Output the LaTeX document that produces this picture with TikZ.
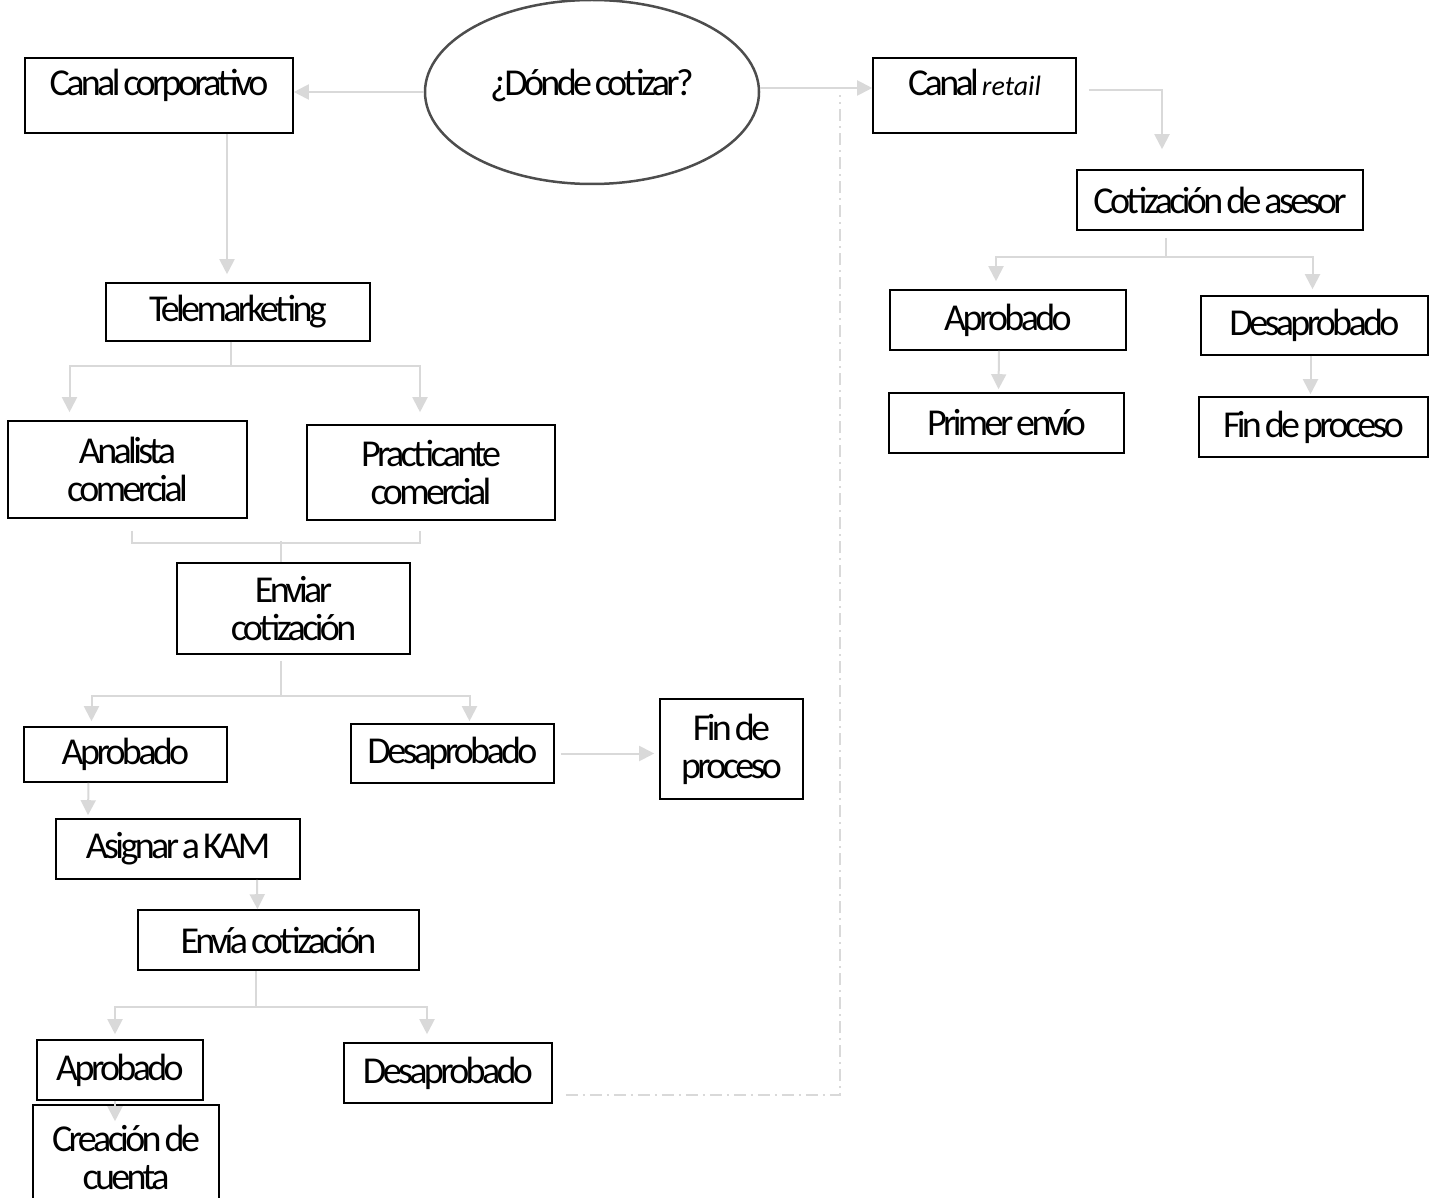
\documentclass[tikz,border=0pt]{standalone}
\usepackage{fontspec}
\usetikzlibrary{arrows.meta,shapes.geometric}
\newfontfamily\dc[LetterSpace=-9.5,WordSpace=0.6]{Carlito}
\newfontfamily\rt{Carlito}
\definecolor{linkgray}{HTML}{D9D9D9}
\definecolor{ovalgray}{HTML}{4D4D4D}
\tikzset{
	box/.style={draw, line width=1.6pt, minimum width=#1, minimum height=60pt, inner sep=2pt, align=center},
	box/.default=200pt,
	link/.style={draw=linkgray, line width=2pt},
	arr/.style={link, -{Triangle[length=15pt,width=15pt]}},
	dashdot/.style={draw=linkgray, line width=1.6pt, dash pattern=on 12pt off 5pt on 2pt off 5pt},
}

\begin{document}
\begin{tikzpicture}[x=1pt,y=-1pt,font=\dc\fontsize{38}{38}\selectfont]
	\useasboundingbox (0,0) rectangle (1429,1198);
	% top row
	\node[ellipse, draw=ovalgray, line width=2.5pt, minimum width=334pt, minimum height=184pt, text depth=20pt] (quest) at (592,92) {¿Dónde cotizar?};
	\node[box=268pt, minimum height=75pt, text depth=27pt] (corp) at (159,95.5) {Canal corporativo};
	\node[box=203pt, minimum height=75pt, text depth=27pt] (retail) at (974.5,95.5) {Canal {\rt\fontsize{28}{30}\selectfont\itshape retail}};
	% corporate channel
	\node[box=264pt, minimum height=58pt] (tele) at (238,312) {Telemarketing};
	\node[box=239pt, minimum height=97pt] (ana) at (127.5,469.5) {Analista\\comercial};
	\node[box=248pt, minimum height=95pt] (prac) at (431,472.5) {Practicante\\comercial};
	\node[box=233pt, minimum height=91pt] (send) at (293.5,608.5) {Enviar\\cotización};
	\node[box=203pt, minimum height=55pt] (apr1) at (125.5,754.5) {Aprobado};
	\node[box=203pt, minimum height=59pt] (des1) at (452.5,753.5) {Desaprobado};
	\node[box=143pt, minimum height=100pt] (fin1) at (731.5,749) {Fin de\\proceso};
	\node[box=244pt] (kam) at (178,849) {Asignar a KAM};
	\node[box=281pt] (send2) at (278.5,940) {Envía cotización};
	\node[box=166pt] (apr2) at (120,1070) {Aprobado};
	\node[box=208pt] (des2) at (448,1073) {Desaprobado};
	\node[box=186pt, minimum height=104pt] (acct) at (126,1157) {Creación de\\cuenta};
	% retail channel
	\node[box=286pt] (ases) at (1220,200) {Cotización de asesor};
	\node[box=236pt] (apr3) at (1008,320) {Aprobado};
	\node[box=227pt, minimum height=59pt] (des3) at (1314.5,325.5) {Desaprobado};
	\node[box=235pt] (env) at (1006.5,423) {Primer envío};
	\node[box=229pt] (fin3) at (1313.5,427) {Fin de proceso};
	\coordinate (dd) at (840,95);

	\draw[arr] (quest.west) -- (quest.west -| corp.east);
	\draw[arr] ([yshift=4pt]quest.east) -- ([yshift=4pt]quest.east -| retail.west);
	\draw[arr] ([xshift=12pt,yshift=5pt]retail.east) -| ([xshift=-58pt,yshift=20pt]ases.north);

	\draw[arr] ([xshift=68pt]corp.south) -- ([xshift=-11pt,yshift=8pt]tele.north);
	\draw[link] ([xshift=-7pt]tele.south) -- ++(0,24) coordinate (t1);
	\draw[arr] (t1) -| ([xshift=-58pt,yshift=8pt]ana.north);
	\draw[arr] (t1) -| ([xshift=-11pt,yshift=12pt]prac.north);
	\draw[link] ([xshift=4pt,yshift=-12pt]ana.south) |- ([xshift=-11pt,yshift=-22pt]prac.south) -- ++(0,-12);
	\draw[link] ([xshift=-13pt]send.north) -- ++(0,-21);
	\draw[link] ([xshift=-13pt,yshift=-6pt]send.south) -- ++(0,35) coordinate (s1);
	\draw[arr] (s1) -| ([xshift=-34pt,yshift=5pt]apr1.north);
	\draw[arr] (s1) -| ([xshift=17pt,yshift=2pt]des1.north);
	\draw[arr] ([xshift=6pt]des1.east) -- ([xshift=-5pt]des1.east -| fin1.west);
	\draw[arr] ([xshift=-37pt]apr1.south) -- ([xshift=-90pt,yshift=3pt]kam.north);
	\draw[arr] ([xshift=79pt]kam.south) -- ([xshift=-21pt]send2.north);
	\draw[link] ([xshift=-23pt]send2.south) -- ++(0,36) coordinate (s2);
	\draw[arr] (s2) -| ([xshift=-5pt,yshift=5pt]apr2.north);
	\draw[arr] (s2) -| ([xshift=-21pt,yshift=8pt]des2.north);
	\draw[arr] ([xshift=-5pt]apr2.south) -- ([xshift=-11pt,yshift=-17pt]acct.north);
	\draw[dashdot] ([xshift=13pt,yshift=9pt]des2.south east) -| (dd);

	\draw[link] ([xshift=-54pt,yshift=-7pt]ases.south) -- ++(0,19) coordinate (a1);
	\draw[arr] (a1) -| ([xshift=-12pt,yshift=8pt]apr3.north);
	\draw[arr] (a1) -| ([xshift=-2pt,yshift=6pt]des3.north);
	\draw[arr] ([xshift=-9pt]apr3.south) -- ([xshift=-8pt,yshift=3pt]env.north);
	\draw[arr] ([xshift=-4pt]des3.south) -- ([xshift=-3pt,yshift=2pt]fin3.north);
\end{tikzpicture}
\end{document}
